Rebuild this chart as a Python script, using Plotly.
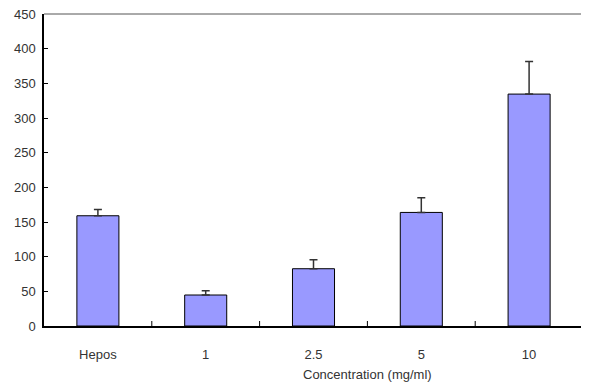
import plotly.graph_objects as go

categories = ["Hepos", "1", "2.5", "5", "10"]
values = [159, 44.7, 82.6, 163.8, 334.5]
errors = [9, 6, 13, 21, 47]
y_ticks = [0, 50, 100, 150, 200, 250, 300, 350, 400, 450]

fig = go.Figure()
fig.add_trace(go.Bar(
    x=categories, y=values, width=0.39,
    marker=dict(color="#9999FF", line=dict(color="black", width=1)),
    error_y=dict(type="data", array=errors, symmetric=False,
                 arrayminus=[0] * len(errors), color="#333333",
                 thickness=1.5, width=4),
))

# page body has an 8px default margin, so the figure is sized/margined to compensate
fig.update_layout(
    width=581, height=378,
    margin=dict(l=36, r=6, t=6, b=60, autoexpand=False),
    paper_bgcolor="white", plot_bgcolor="white",
    showlegend=False,
    font=dict(family="Liberation Sans, Arial, sans-serif", size=13, color="#333333"),
    xaxis=dict(showline=True, linecolor="black", linewidth=1.5, automargin=False,
               ticks="", tickfont=dict(size=13), ticklabelstandoff=16),
    yaxis=dict(range=[0, 450], tickvals=y_ticks, showline=True, automargin=False,
               linecolor="black", linewidth=1.5, ticks="inside",
               ticklen=4, tickcolor="black", showgrid=False,
               zeroline=False, tickfont=dict(size=13), ticklabelstandoff=4,
               ticklabeloverflow="allow"),
    shapes=[
        dict(type="line", xref="paper", yref="paper", x0=0, x1=1, y0=1, y1=1,
             line=dict(color="#555555", width=1)),
        dict(type="line", xref="paper", yref="paper", x0=1, x1=1, y0=0, y1=1,
             line=dict(color="#555555", width=1)),
    ] + [
        dict(type="line", xref="x", yref="paper", x0=i + 0.5, x1=i + 0.5,
             y0=0, y1=0.016, line=dict(color="black", width=1))
        for i in range(len(categories) - 1)
    ],
    annotations=[dict(text="Concentration (mg/ml)", xref="paper", yref="paper",
                      x=(367 - 44) / 539, y=0, yshift=-48, showarrow=False,
                      xanchor="center", yanchor="middle",
                      font=dict(size=13, color="#333333"))],
)

fig.write_html("out.html")
